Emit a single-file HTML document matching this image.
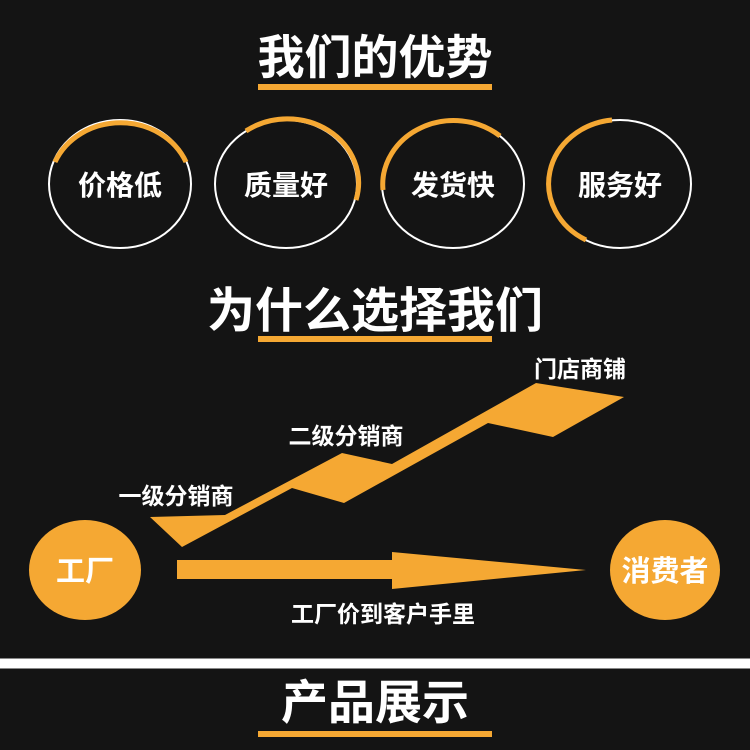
<!DOCTYPE html>
<html><head><meta charset="utf-8"><style>
html,body{margin:0;padding:0;background:#141414;}
body{width:750px;height:750px;position:relative;overflow:hidden;font-family:"Liberation Sans","Noto Sans CJK SC",sans-serif;}
</style></head><body>
<svg width="750" height="750" viewBox="0 0 750 750" style="position:absolute;left:0;top:0">
<rect width="750" height="750" fill="#141414"/>
<g font-family="Liberation Sans, Noto Sans CJK SC, sans-serif" font-weight="bold" fill="#fff" text-anchor="middle">
<text x="375" y="74" font-size="47">我们的优势</text>
<rect x="258" y="84" width="234" height="6" fill="#f5a833"/>
<g fill="none" stroke="#fff" stroke-width="2">
<ellipse cx="120" cy="184" rx="71" ry="64"/>
<ellipse cx="286" cy="184" rx="71" ry="64"/>
<ellipse cx="453" cy="184" rx="71" ry="64"/>
<ellipse cx="620" cy="184" rx="71" ry="64"/>
</g>
<g fill="none" stroke="#f5a833" stroke-width="5">
<path d="M55 162 A71 64 0 0 1 186 162"/>
<path d="M246 131 A71 64 0 0 1 356 200"/>
<path d="M383 190 A71 64 0 0 1 500 136"/>
<path d="M612 120 A71 64 0 0 0 586 240"/>
</g>
<g font-size="28">
<text x="120" y="195">价格低</text>
<text x="286" y="195">质量好</text>
<text x="453" y="195">发货快</text>
<text x="620" y="195">服务好</text>
</g>
<text x="375" y="327" font-size="48">为什么选择我们</text>
<rect x="258" y="336" width="234" height="6" fill="#f5a833"/>
<polygon fill="#f5a833" points="150,517 225,515 342,453 392,464 536,383 624,397 553,437 488,423 344,503 292,488 182,547"/>
<polygon fill="#f5a833" points="177,560 392,560 392,552 586,570 392,589 392,579 177,579"/>
<ellipse cx="85" cy="570" rx="56" ry="50" fill="#f5a833"/>
<ellipse cx="665" cy="570" rx="55" ry="50" fill="#f5a833"/>
<g font-size="23">
<text x="580" y="377">门店商铺</text>
<text x="346" y="444">二级分销商</text>
<text x="176" y="504">一级分销商</text>
<text x="383" y="622">工厂价到客户手里</text>
</g>
<text x="85" y="581" font-size="29">工厂</text>
<text x="665" y="581" font-size="29">消费者</text>
<rect x="0" y="658" width="750" height="11" fill="#888"/>
<rect x="0" y="659" width="750" height="9" fill="#fff"/>
<text x="375" y="719" font-size="47">产品展示</text>
<rect x="258" y="731" width="234" height="6" fill="#f5a833"/>
</g>
</svg>
</body></html>
